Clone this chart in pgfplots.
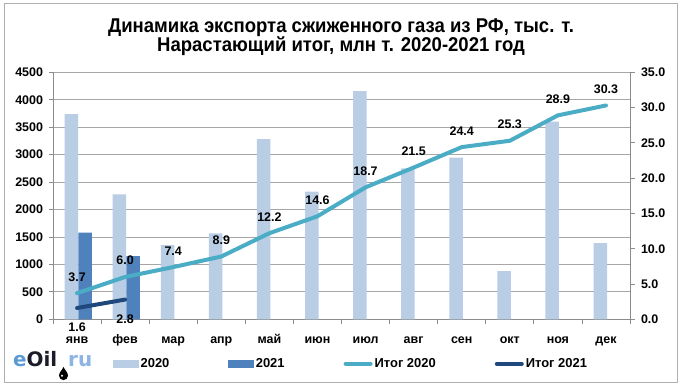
\documentclass[border=0pt]{standalone}
\usepackage{fontspec}
\setmainfont{Liberation Sans}
\newfontfamily\titlefont[FakeStretch=0.93]{Liberation Sans}
\newfontfamily\logofont{DejaVu Sans}
\usepackage{pgfplots}
\pgfplotsset{compat=1.18}
\definecolor{c20}{HTML}{B9CDE5}
\definecolor{c21}{HTML}{4F81BD}
\definecolor{l20}{HTML}{4BACC6}
\definecolor{l21}{HTML}{1F497D}
\definecolor{gridc}{HTML}{A6A6A6}
\definecolor{axc}{HTML}{8C8C8C}
\definecolor{framec}{HTML}{B0B0B0}
\definecolor{logoe}{HTML}{5B9BD5}
\definecolor{logoru}{HTML}{8DB4E2}
\definecolor{logooil}{HTML}{1C1C28}
\newcommand{\lblfont}{\bfseries\fontsize{12.5}{14}\selectfont}
\begin{document}
\begin{tikzpicture}[x=1bp,y=1bp]
\useasboundingbox (-53,-69.7) rectangle (629,319.3);
\draw[framec, line width=0.8bp] (-49,-62.7) rectangle (624,316.3);
\node[font=\titlefont\bfseries\fontsize{20}{21}\selectfont, anchor=base, inner sep=0] at (288,287) {Динамика экспорта сжиженного газа из РФ, тыс. т.};
\node[font=\titlefont\bfseries\fontsize{20}{21}\selectfont, anchor=base, inner sep=0] at (288,267.6) {Нарастающий итог, млн т. 2020-2021 год};
% logo
\node[anchor=base west, inner sep=0, font=\logofont\bfseries\fontsize{20}{20}\selectfont] at (-40,-47.4) {\textcolor{logoe}{e}\textcolor{logooil}{Oil}};
\node[anchor=base west, inner sep=0, font=\logofont\bfseries\fontsize{20}{20}\selectfont] at (15,-47.4) {\textcolor{logoru}{ru}};
\fill[black] (10.5,-47.5) .. controls (9.5,-50.5) and (6,-53) .. (6,-56.3) arc[start angle=180, end angle=360, radius=4.5] .. controls (15,-53) and (11.5,-50.5) .. (10.5,-47.5) -- cycle;
\fill[white] (9,-56.5) circle[radius=1.1];

\begin{axis}[
  at={(0,0)}, anchor=south west, scale only axis, width=577bp, height=247bp,
  xmin=-0.5, xmax=11.5, ymin=0, ymax=4500,
  ybar=0pt, bar width=13.5bp,
  axis x line*=bottom, axis y line*=left,
  axis line style={axc, line width=0.8bp},
  xtick={0,...,11},
  xticklabels={янв,фев,мар,апр,май,июн,июл,авг,сен,окт,ноя,дек},
  minor xtick={-0.5,0.5,...,11.5},
  major x tick style={draw=none},
  ytick={0,500,...,4500},
  ymajorgrids, grid style={gridc, line width=0.8bp},
  tick style={axc, line width=0.8bp},
  tick align=outside, major tick length=4.5bp, minor tick length=4.5bp,
  x tick label style={font=\lblfont, text height=9bp, text depth=0pt, inner sep=1bp, yshift=-9bp},
  y tick label style={font=\lblfont, xshift=-2bp},
  /pgf/number format/assume math mode=true,
  /pgf/number format/1000 sep={},
]
\addplot[fill=c20, draw=none, bar shift=-5.7bp] coordinates {
(0,3740) (1,2277) (2,1353) (3,1566) (4,3284) (5,2324) (6,4158) (7,2750) (8,2944) (9,880) (10,3600) (11,1390)};
\addplot[fill=c21, draw=none, bar shift=8bp] coordinates {
(0,1577) (1,1153)};
\end{axis}

\begin{axis}[
  at={(0,0)}, anchor=south west, scale only axis, width=577bp, height=247bp,
  xmin=-0.5, xmax=11.5, ymin=0, ymax=35,
  axis x line=none, axis y line*=right,
  axis line style={axc, line width=0.8bp},
  ytick={0,5,...,35},
  tick style={axc, line width=0.8bp}, tick align=outside, major tick length=4.5bp,
  y tick label style={font=\lblfont, xshift=3bp, /pgf/number format/fixed, /pgf/number format/fixed zerofill, /pgf/number format/precision=1},
  /pgf/number format/assume math mode=true,
  legend style={at={(0.104,-0.18)}, anchor=west, draw=none, fill=none, legend columns=4,
    font=\bfseries\fontsize{13}{15}\selectfont, inner sep=0pt,
    /tikz/every even column/.append style={column sep=57bp}},
  legend cell align=left,
]
\addlegendimage{legend image code/.code={\fill[c20] (0bp,-3.25bp) rectangle (25bp,3.25bp);}}
\addlegendentry{2020}
\addlegendimage{legend image code/.code={\fill[c21] (0bp,-3.25bp) rectangle (25bp,3.25bp);}}
\addlegendentry{2021}
\addplot[l20, line width=4bp, line join=round, line cap=round, mark=none,
  point meta=y,
  nodes near coords={\pgfmathprintnumber[fixed,fixed zerofill,precision=1,assume math mode=true]{\pgfplotspointmeta}},
  every node near coord/.append style={text=black, font=\lblfont, anchor=south, inner sep=1bp, yshift=9bp},
  legend image code/.code={\draw[l20, line width=4bp, line cap=round] (2bp,0bp) -- (27bp,0bp);}
] coordinates {
(0,3.7) (1,6.0) (2,7.4) (3,8.9) (4,12.2) (5,14.6) (6,18.7) (7,21.5) (8,24.4) (9,25.3) (10,28.9) (11,30.3)};
\addlegendentry{Итог 2020}
\addplot[l21, line width=4bp, line join=round, line cap=round, mark=none,
  point meta=y,
  nodes near coords={\pgfmathprintnumber[fixed,fixed zerofill,precision=1,assume math mode=true]{\pgfplotspointmeta}},
  every node near coord/.append style={text=black, font=\lblfont, anchor=north, inner sep=1bp, yshift=-12bp},
  legend image code/.code={\draw[l21, line width=4bp, line cap=round] (2bp,0bp) -- (27bp,0bp);}
] coordinates {
(0,1.6) (1,2.8)};
\addlegendentry{Итог 2021}
\end{axis}
\end{tikzpicture}
\end{document}
